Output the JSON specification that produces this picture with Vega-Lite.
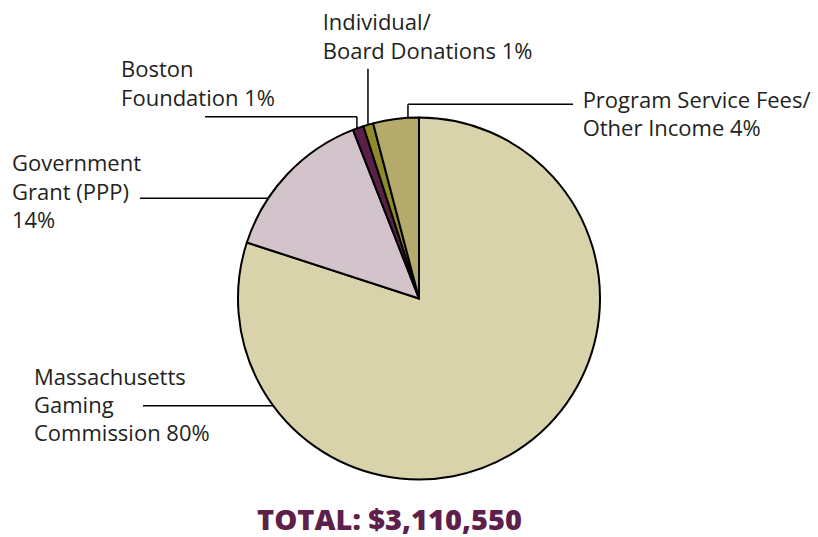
{
  "$schema": "https://vega.github.io/schema/vega-lite/v6.json",
  "width": 818,
  "height": 537,
  "autosize": {"type": "fit", "contains": "padding"},
  "padding": 0,
  "background": "#ffffff",
  "config": {"view": {"stroke": null}},
  "datasets": {
    "slices": [
      {"source": "Massachusetts Gaming Commission", "share": 80.0, "order": 1},
      {"source": "Government Grant (PPP)", "share": 14.06, "order": 2},
      {"source": "Boston Foundation", "share": 0.97, "order": 3},
      {"source": "Individual/Board Donations", "share": 0.89, "order": 4},
      {"source": "Program Service Fees/Other Income", "share": 4.08, "order": 5}
    ],
    "leaders": [
      {"source": "Boston Foundation", "x": -1.182, "y": 1.006, "x2": -0.343, "y2": 1.006},
      {"source": "Boston Foundation", "x": -0.343, "y": 1.006, "x2": -0.343, "y2": 0.939},
      {"source": "Individual/Board Donations", "x": -0.282, "y": 1.271, "x2": -0.282, "y2": 0.960},
      {"source": "Program Service Fees/Other Income", "x": -0.061, "y": 0.998, "x2": -0.061, "y2": 1.075},
      {"source": "Program Service Fees/Other Income", "x": -0.061, "y": 1.075, "x2": 0.851, "y2": 1.075},
      {"source": "Government Grant (PPP)", "x": -1.541, "y": 0.555, "x2": -0.832, "y2": 0.555},
      {"source": "Massachusetts Gaming Commission", "x": -1.525, "y": -0.594, "x2": -0.805, "y2": -0.594}
    ],
    "labels": [
      {"line": "Individual/", "x": -0.532, "y": 1.486},
      {"line": "Board Donations 1%", "x": -0.532, "y": 1.324},
      {"line": "Boston", "x": -1.646, "y": 1.228},
      {"line": "Foundation 1%", "x": -1.646, "y": 1.066},
      {"line": "Program Service Fees/", "x": 0.904, "y": 1.054},
      {"line": "Other Income 4%", "x": 0.904, "y": 0.897},
      {"line": "Government", "x": -2.249, "y": 0.704},
      {"line": "Grant (PPP)", "x": -2.249, "y": 0.547},
      {"line": "14%", "x": -2.249, "y": 0.392},
      {"line": "Massachusetts", "x": -2.127, "y": -0.481},
      {"line": "Gaming", "x": -2.127, "y": -0.635},
      {"line": "Commission 80%", "x": -2.127, "y": -0.790}
    ],
    "total": [
      {"line": "TOTAL: $3,110,550", "x": -0.163, "y": -1.283}
    ]
  },
  "layer": [
    {
      "data": {"name": "slices"},
      "mark": {"type": "arc", "outerRadius": 181, "stroke": "#000000", "strokeWidth": 2, "strokeJoin": "round"},
      "encoding": {
        "x": {"datum": 0, "type": "quantitative", "scale": {"domain": [-2.3149, 2.2044], "nice": false, "zero": false}, "axis": null},
        "y": {"datum": 0, "type": "quantitative", "scale": {"domain": [-1.3149, 1.6519], "nice": false, "zero": false}, "axis": null},
        "theta": {"field": "share", "type": "quantitative", "stack": true},
        "order": {"field": "order", "type": "quantitative"},
        "color": {
          "field": "source",
          "type": "nominal",
          "scale": {
            "domain": ["Massachusetts Gaming Commission", "Government Grant (PPP)", "Boston Foundation", "Individual/Board Donations", "Program Service Fees/Other Income"],
            "range": ["#d8d3aa", "#d3c3cb", "#5b2047", "#8e8a2a", "#b3aa6b"]
          },
          "legend": null
        }
      }
    },
    {
      "data": {"name": "leaders"},
      "mark": {"type": "rule", "stroke": "#000000", "strokeWidth": 1.5},
      "encoding": {
        "x": {"field": "x", "type": "quantitative", "scale": {"domain": [-2.3149, 2.2044], "nice": false, "zero": false}, "axis": null},
        "y": {"field": "y", "type": "quantitative", "scale": {"domain": [-1.3149, 1.6519], "nice": false, "zero": false}, "axis": null},
        "x2": {"field": "x2"},
        "y2": {"field": "y2"}
      }
    },
    {
      "data": {"name": "labels"},
      "mark": {"type": "text", "font": "Open Sans", "fontSize": 22, "align": "left", "baseline": "alphabetic", "color": "#231f20"},
      "encoding": {
        "x": {"field": "x", "type": "quantitative", "scale": {"domain": [-2.3149, 2.2044], "nice": false, "zero": false}, "axis": null},
        "y": {"field": "y", "type": "quantitative", "scale": {"domain": [-1.3149, 1.6519], "nice": false, "zero": false}, "axis": null},
        "text": {"field": "line"}
      }
    },
    {
      "data": {"name": "total"},
      "mark": {"type": "text", "font": "Open Sans", "fontSize": 29, "fontWeight": 800, "align": "center", "baseline": "alphabetic", "color": "#5e1f4a"},
      "encoding": {
        "x": {"field": "x", "type": "quantitative", "scale": {"domain": [-2.3149, 2.2044], "nice": false, "zero": false}, "axis": null},
        "y": {"field": "y", "type": "quantitative", "scale": {"domain": [-1.3149, 1.6519], "nice": false, "zero": false}, "axis": null},
        "text": {"field": "line"}
      }
    }
  ]
}
